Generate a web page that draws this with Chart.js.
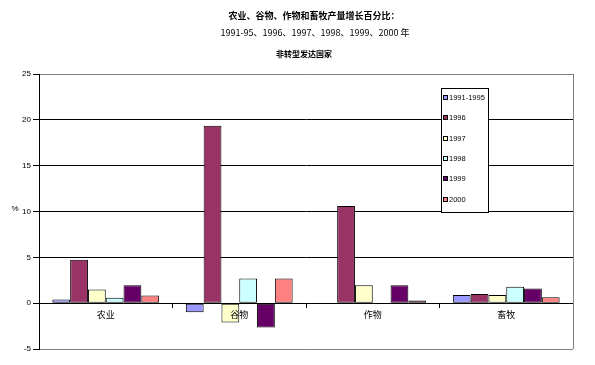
<!DOCTYPE html>
<html>
<head>
<meta charset="utf-8">
<script src="https://cdn.jsdelivr.net/npm/chart.js@4"></script>
<style>
  html, body { margin: 0; padding: 0; background: #fff; }
  #wrap { width: 595px; height: 365px; position: relative; }
</style>
</head>
<body>
<div id="wrap"><canvas id="chart" width="595" height="365"></canvas></div>
<script>
// categories and series
const categories = ["农业", "谷物", "作物", "畜牧"];
const seriesNames = ["1991-1995", "1996", "1997", "1998", "1999", "2000"];
const v1991_95 = [0.4, -1.0, 0, 0.9];
const v1996 = [4.75, 19.35, 10.6, 1.0];
const v1997 = [1.5, -2.1, 1.95, 0.9];
const v1998 = [0.6, 2.7, 0, 1.8];
const v1999 = [1.95, -2.65, 1.95, 1.6];
const v2000 = [0.85, 2.7, 0.3, 0.65];
const seriesColors = ["#9999FF", "#993366", "#FFFFCC", "#CCFFFF", "#660066", "#FF8080"];
const yTicks = [-5, 0, 5, 10, 15, 20, 25];

const titleLines = ["农业、谷物、作物和畜牧产量增长百分比：", "1991-95、1996、1997、1998、1999、2000 年", "非转型发达国家"];
const cjk = '"Noto Sans CJK SC", "Liberation Sans", sans-serif';
const latin = '"Liberation Sans", Arial, sans-serif';

const allValues = [v1991_95, v1996, v1997, v1998, v1999, v2000];

// titles, % label, right border and legend box
const decor = {
  id: "decor",
  afterDraw(chart) {
    const c = chart.ctx;
    const a = chart.chartArea;
    c.save();
    // grey plot border on the right
    c.strokeStyle = "#808080";
    c.lineWidth = 1;
    c.beginPath();
    c.moveTo(Math.round(a.right) + 0.5, a.top);
    c.lineTo(Math.round(a.right) + 0.5, a.bottom);
    c.stroke();

    c.fillStyle = "#000";
    c.textAlign = "center";
    c.textBaseline = "middle";
    c.font = "bold 9px " + cjk;
    c.fillText(titleLines[0], 314, 16);
    c.font = "9px " + cjk;
    c.fillText(titleLines[1], 315, 33);
    c.font = "bold 8px " + cjk;
    c.fillText(titleLines[2], 304, 54);

    c.font = "8px " + latin;
    c.fillText("%", 15, 209);

    // legend
    const lx = 441, ly = 88, lw = 47, lh = 124;
    c.fillStyle = "#fff";
    c.fillRect(lx, ly, lw, lh);
    c.strokeStyle = "#000";
    c.strokeRect(lx + 0.5, ly + 0.5, lw, lh);
    c.textAlign = "left";
    c.font = "7.5px " + latin;
    seriesNames.forEach((name, i) => {
      const cy = 98 + i * 20.3;
      c.fillStyle = seriesColors[i];
      c.fillRect(443, Math.round(cy) - 3, 5, 5);
      c.strokeStyle = "#000";
      c.strokeRect(443.5, Math.round(cy) - 2.5, 4, 4);
      c.fillStyle = "#000";
      c.fillText(name, 449, cy);
    });
    c.restore();
  }
};

new Chart(document.getElementById("chart"), {
  type: "bar",
  data: {
    labels: categories,
    datasets: seriesNames.map((name, i) => ({
      label: name,
      data: allValues[i],
      backgroundColor: seriesColors[i],
      borderColor: "#000",
      borderWidth: 1,
      borderSkipped: false,
      categoryPercentage: 0.8,
      barPercentage: 1.0
    }))
  },
  options: {
    responsive: false,
    animation: false,
    layout: { padding: { top: 74, right: 22, bottom: 16, left: 0 } },
    plugins: {
      legend: { display: false },
      title: { display: false },
      tooltip: { enabled: false }
    },
    scales: {
      x: {
        position: { y: 0 },
        afterFit: (s) => { s.height = 0; },
        grid: {
          offset: true,
          drawOnChartArea: false,
          drawTicks: true,
          tickLength: 4,
          color: "#000",
          tickColor: "#000"
        },
        border: { display: true, color: "#000" },
        ticks: {
          z: 1,
          color: "#000",
          padding: 2,
          font: { family: cjk, size: 9 },
          maxRotation: 0
        }
      },
      y: {
        min: yTicks[0],
        max: yTicks[yTicks.length - 1],
        afterFit: (s) => { s.width = 39; },
        afterBuildTicks: (s) => { s.ticks = yTicks.map((v) => ({ value: v })); },
        grid: {
          color: (ctx) => (ctx.tick && (ctx.tick.value === 25 || ctx.tick.value === -5) ? "#808080" : "#000"),
          tickColor: "#000",
          tickLength: 6
        },
        border: { display: true, color: "#000" },
        ticks: {
          color: "#000",
          padding: 2,
          font: { family: latin, size: 8 }
        }
      }
    }
  },
  plugins: [decor]
});
</script>
</body>
</html>
